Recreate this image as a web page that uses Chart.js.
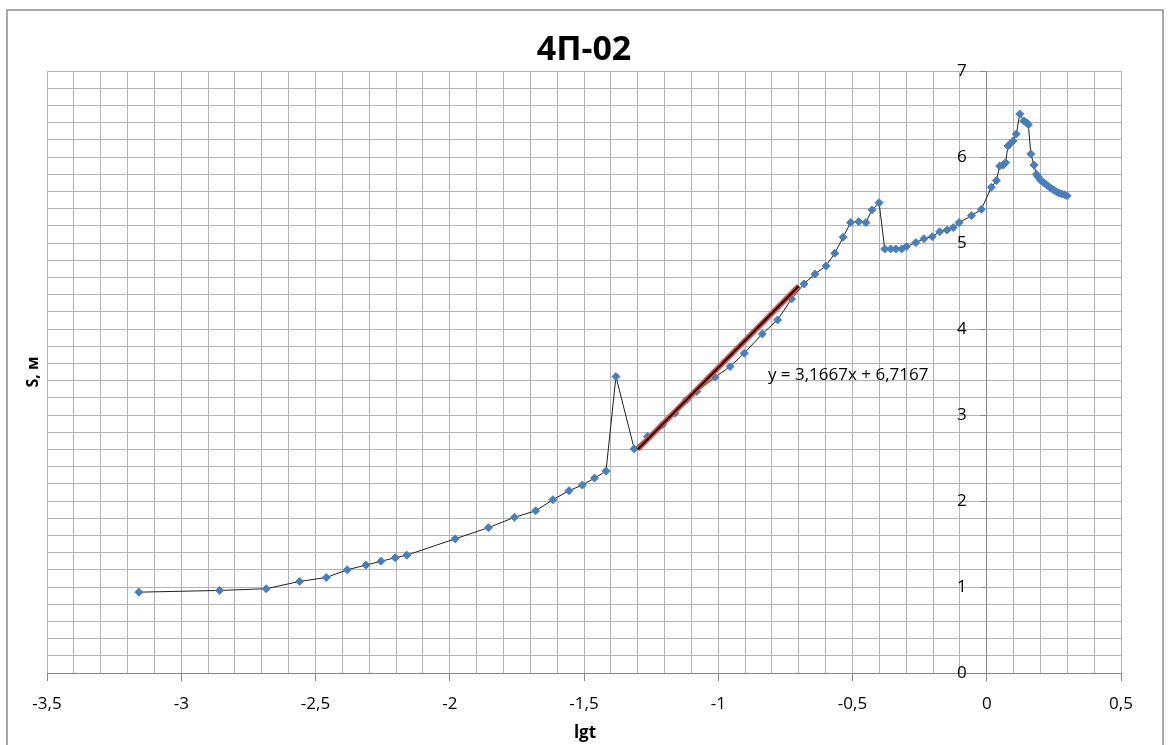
<!DOCTYPE html>
<html>
<head>
<meta charset="utf-8">
<script src="https://cdn.jsdelivr.net/npm/chart.js"></script>
<style>
body{margin:0;background:#fff;}
#wrap{position:relative;width:1171px;height:745px;}
</style>
</head>
<body>
<div id="wrap"><canvas id="myChart" width="1171" height="745"></canvas></div>
<script>
// lgt values (x) and drawdown S, m (y)
const lgt=[-3.158,-2.857,-2.684,-2.559,-2.46,-2.382,-2.312,-2.256,-2.203,-2.16,
  -1.98,-1.856,-1.759,-1.68,-1.616,-1.556,-1.506,-1.461,-1.418,-1.381,
  -1.313,-1.263,-1.208,-1.161,-1.118,-1.08,-1.012,-0.956,-0.903,-0.836,
  -0.779,-0.727,-0.681,-0.64,-0.599,-0.566,-0.535,-0.507,-0.477,-0.45,
  -0.428,-0.401,-0.38,-0.358,-0.339,-0.317,-0.299,-0.264,-0.234,-0.203,
  -0.175,-0.148,-0.125,-0.103,-0.057,-0.02,0.017,0.036,0.048,0.061,
  0.07,0.079,0.088,0.098,0.11,0.123,0.138,0.148,0.155,0.164,
  0.176,0.185,0.191,0.2,0.21,0.22,0.23,0.239,0.249,0.259,
  0.269,0.279,0.289,0.299];
const S=[0.94,0.96,0.98,1.065,1.11,1.2,1.255,1.3,1.34,1.37,
  1.56,1.69,1.81,1.886,2.015,2.12,2.185,2.266,2.347,3.447,
  2.607,2.75,2.885,3.02,3.176,3.273,3.44,3.563,3.719,3.943,
  4.106,4.35,4.524,4.64,4.733,4.881,5.067,5.237,5.248,5.237,
  5.384,5.469,4.931,4.931,4.93,4.93,4.958,5.005,5.05,5.074,
  5.132,5.152,5.179,5.237,5.318,5.392,5.648,5.725,5.895,5.907,
  5.934,6.128,6.159,6.186,6.267,6.5,6.42,6.4,6.375,6.035,
  5.907,5.8,5.771,5.733,5.706,5.683,5.66,5.636,5.617,5.597,
  5.582,5.57,5.562,5.55];

// linear trendline ends
const trendX=[-1.3,-0.7];
const trendS=[2.6,4.5];
const trendText="y = 3,1667x + 6,7167";
const trendLabelAt=[-0.815,3.467];

// labelled y values (axis crosses at lgt = 0)
const yTicks=[0,1,2,3,4,5,6,7];

const titleText="4П-02";
const xTitle="lgt";
const yTitle="S, м";

const pts=lgt.map((v,i)=>({x:v,y:S[i]}));
const trendPts=trendX.map((v,i)=>({x:v,y:trendS[i]}));

const fontName="'Open Sans', 'Noto Sans', sans-serif";

function isMajorX(v){
    let r=Math.round(v*10)/10;
    return Math.abs(r*2-Math.round(r*2))<1e-9;
}
function isMajorY(v){
    return Math.abs(v-Math.round(v))<1e-9;
}

const extras={
    id:"extras",
    afterDraw(chart){
        const c=chart.ctx;
        const xs=chart.scales.x;
        const ys=chart.scales.y;
        c.save();
        // outer frame
        c.strokeStyle="#8a8a8a";
        c.lineWidth=1.5;
        c.beginPath();
        c.moveTo(7,745);
        c.lineTo(7,10);
        c.lineTo(1163,10);
        c.lineTo(1163,745);
        c.stroke();

        c.fillStyle="#000";
        c.textAlign="center";
        c.textBaseline="middle";
        c.font="bold 34px "+fontName;
        c.fillText(titleText,(chart.chartArea.left+chart.chartArea.right)/2,50);

        c.font="bold 17px "+fontName;
        c.fillText(xTitle,585,733);

        c.save();
        c.translate(33,372);
        c.rotate(-Math.PI/2);
        c.font="bold 16px "+fontName;
        c.fillText(yTitle,0,0);
        c.restore();

        // y tick labels, left of the axis at x = 0
        c.textAlign="right";
        c.font="17px "+fontName;
        const x0=xs.getPixelForValue(0);
        yTicks.forEach(v=>{
            c.fillText(String(v),x0-20,ys.getPixelForValue(v));
        });

        c.textAlign="left";
        c.fillText(trendText,xs.getPixelForValue(trendLabelAt[0]),ys.getPixelForValue(trendLabelAt[1]));
        c.restore();
    }
};

let myChart=new Chart("myChart",{
    type:"scatter",
    data:{
        datasets:[{
            data:trendPts,
            showLine:true,
            borderColor:"#1a0505",
            borderWidth:2,
            pointRadius:0
        },{
            data:trendPts,
            showLine:true,
            borderColor:"#d0504a",
            borderWidth:5.5,
            pointRadius:0
        },{
            data:pts,
            showLine:true,
            borderColor:"#1f1f1f",
            borderWidth:1,
            pointStyle:"rectRot",
            pointRadius:4,
            pointBackgroundColor:"#4a7ebb",
            pointBorderColor:"#4a7ebb",
            pointBorderWidth:1
        }]
    },
    options:{
        responsive:false,
        animation:false,
        layout:{padding:{left:47,top:71,right:50,bottom:72}},
        plugins:{
            legend:{display:false},
            tooltip:{enabled:false}
        },
        scales:{
            x:{
                type:"linear",
                position:{y:0},
                min:-3.5,
                max:0.5,
                ticks:{
                    stepSize:0.1,
                    autoSkip:false,
                    maxRotation:0,
                    padding:14,
                    color:"#000",
                    font:{family:fontName,size:17},
                    callback:(v)=>isMajorX(v)?String(Math.round(v*10)/10).replace(".",","):""
                },
                grid:{
                    color:"#b3b3b3",
                    lineWidth:1,
                    tickLength:7,
                    tickColor:(ctx)=>ctx.tick&&isMajorX(ctx.tick.value)?"#868686":"rgba(0,0,0,0)"
                },
                border:{color:"#868686",width:1}
            },
            y:{
                type:"linear",
                position:{x:0},
                min:0,
                max:7,
                ticks:{
                    stepSize:0.2,
                    autoSkip:false,
                    display:false
                },
                grid:{
                    color:"#b3b3b3",
                    lineWidth:1,
                    tickLength:6,
                    tickColor:(ctx)=>ctx.tick&&isMajorY(ctx.tick.value)?"#868686":"rgba(0,0,0,0)"
                },
                border:{color:"#868686",width:1}
            }
        }
    },
    plugins:[extras]
});
</script>
</body>
</html>
